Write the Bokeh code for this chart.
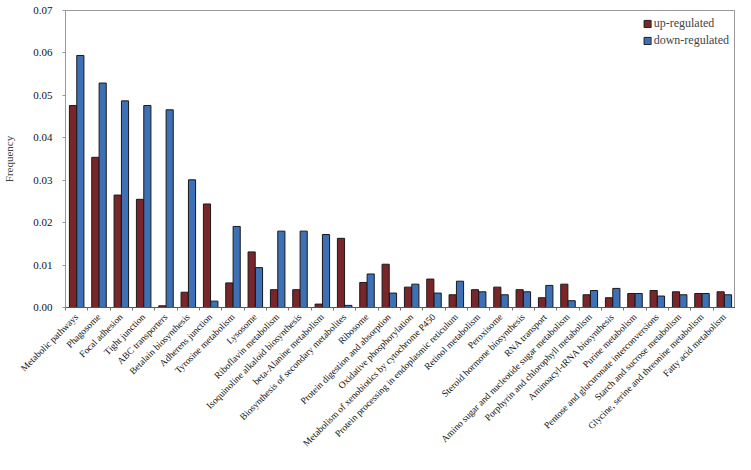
import numpy as np
from bokeh.plotting import figure
from bokeh.models import ColumnDataSource, Range1d, FixedTicker, Legend, LegendItem
from bokeh.embed import file_html
from bokeh.resources import INLINE

categories = [
    "Metabolic pathways", "Phagosome", "Focal adhesion", "Tight junction",
    "ABC transporters", "Betalain biosynthesis", "Adherens junction",
    "Tyrosine metabolism", "Lysosome", "Riboflavin metabolism",
    "Isoquinoline alkaloid biosynthesis", "beta-Alanine metabolism",
    "Biosynthesis of secondary metabolites", "Ribosome",
    "Protein digestion and absorption", "Oxidative phosphorylation",
    "Metabolism of xenobiotics by cytochrome P450",
    "Protein processing in endoplasmic reticulum", "Retinol metabolism",
    "Peroxisome", "Steroid hormone biosynthesis", "RNA transport",
    "Amino sugar and nucleotide sugar metabolism",
    "Porphyrin and chlorophyll metabolism", "Aminoacyl-tRNA biosynthesis",
    "Purine metabolism", "Pentose and glucuronate interconversions",
    "Starch and sucrose metabolism", "Glycine, serine and threonine metabolism",
    "Fatty acid metabolism",
]
up_regulated = [0.0476, 0.0354, 0.0265, 0.0255, 0.0004, 0.0036, 0.0244, 0.0058,
                0.0131, 0.0042, 0.0042, 0.0008, 0.0163, 0.0059, 0.0102, 0.0048,
                0.0067, 0.0030, 0.0042, 0.0048, 0.0042, 0.0023, 0.0055, 0.0030,
                0.0023, 0.0033, 0.0040, 0.0037, 0.0033, 0.0037]
down_regulated = [0.0594, 0.0529, 0.0487, 0.0476, 0.0466, 0.0301, 0.0015, 0.0191,
                  0.0094, 0.0180, 0.0180, 0.0172, 0.0005, 0.0079, 0.0034, 0.0055,
                  0.0034, 0.0062, 0.0037, 0.0030, 0.0037, 0.0052, 0.0016, 0.0040,
                  0.0045, 0.0033, 0.0027, 0.0030, 0.0033, 0.0030]
y_ticks = [0.0, 0.01, 0.02, 0.03, 0.04, 0.05, 0.06, 0.07]

FONT = "Liberation Serif"
RED = "#7a2529"
BLUE = "#3d70b5"

n = len(categories)
pos = np.arange(n) + 0.5
src = ColumnDataSource(dict(x_up=pos - 0.165, x_down=pos + 0.165,
                            up=up_regulated, down=down_regulated))

p = figure(width=735, height=454, output_backend="svg", toolbar_location=None,
           x_range=Range1d(0, n), y_range=Range1d(0, 0.07),
           min_border_left=10, min_border_right=0, min_border_top=10, min_border_bottom=0)

r1 = p.vbar(x="x_up", top="up", width=0.32, source=src, fill_color=RED,
            line_color="#1a1a1a", line_width=1)
r2 = p.vbar(x="x_down", top="down", width=0.32, source=src, fill_color=BLUE,
            line_color="#1a1a1a", line_width=1)

p.xgrid.grid_line_color = None
p.ygrid.grid_line_color = None
p.outline_line_color = "#999999"
p.outline_line_width = 1

xa = p.xaxis[0]
xa.ticker = FixedTicker(ticks=list(pos), minor_ticks=list(np.arange(n + 1)))
xa.major_label_overrides = {float(v): c for v, c in zip(pos, categories)}
xa.major_label_orientation = np.pi / 4
xa.major_tick_line_color = None
xa.minor_tick_in = 0
xa.minor_tick_out = 3
xa.minor_tick_line_color = "#777777"
xa.axis_line_color = "#555555"
xa.major_label_text_font = FONT
xa.major_label_text_font_size = "9.5px"
xa.major_label_text_color = "#111111"
xa.major_label_standoff = 2

ya = p.yaxis[0]
ya.ticker = FixedTicker(ticks=y_ticks, minor_ticks=[])
ya.major_label_overrides = {t: f"{t:.2f}" for t in y_ticks}
ya.major_label_text_font = FONT
ya.major_label_text_font_size = "11px"
ya.major_label_text_color = "#111111"
ya.axis_line_color = "#999999"
ya.major_tick_line_color = "#999999"
ya.major_tick_in = 0
ya.major_tick_out = 3
ya.minor_tick_line_color = None
ya.major_label_standoff = 10
ya.axis_label = "Frequency"
ya.axis_label_text_font = FONT
ya.axis_label_text_font_size = "11px"
ya.axis_label_text_font_style = "normal"
ya.axis_label_standoff = 15

legend = Legend(items=[LegendItem(label="up-regulated", renderers=[r1]),
                       LegendItem(label="down-regulated", renderers=[r2])],
                location="top_right")
legend.border_line_color = None
legend.background_fill_alpha = 0
legend.label_text_font = FONT
legend.label_text_font_size = "12px"
legend.glyph_width = 9
legend.glyph_height = 9
legend.label_height = 15
legend.label_standoff = 2
legend.spacing = 2
legend.padding = 4
legend.margin = 6
p.add_layout(legend)

open("out.html", "w").write(file_html(p, INLINE))
